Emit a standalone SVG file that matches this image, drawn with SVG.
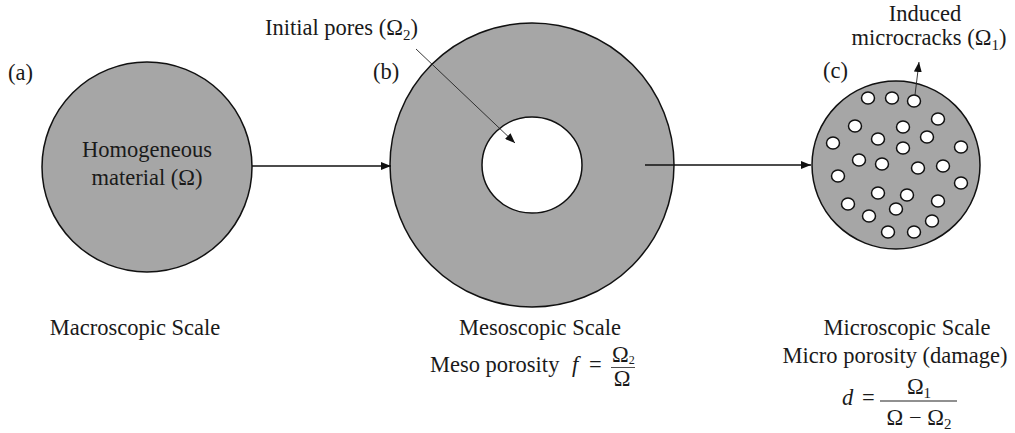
<svg xmlns="http://www.w3.org/2000/svg" width="1015" height="433" viewBox="0 0 1015 433">
<style>
text{font-family:"Liberation Serif","Times New Roman",serif;font-size:22.5px;fill:#1a1a1a}
.mid{text-anchor:middle}
.body{fill:#a6a6a6;stroke:#111;stroke-width:1.5}
.hole{fill:#fff;stroke:#111;stroke-width:1.5}
.conn{stroke:#111;stroke-width:1.3;fill:none}
.thin{stroke:#222;stroke-width:0.9;fill:none}
.it{font-style:italic}
</style>
<defs>
<marker id="ah" viewBox="0 0 10 8" refX="10" refY="4" markerWidth="10" markerHeight="8" markerUnits="userSpaceOnUse" orient="auto">
<path d="M0,0 L10,4 L0,8 Z" fill="#111"/>
</marker>
</defs>

<g id="macro">
<circle class="body" cx="147" cy="167" r="105"/>
<text class="mid" x="147" y="157">Homogeneous</text>
<text class="mid" x="147" y="185">material (Ω)</text>
<text x="8" y="80">(a)</text>
<text class="mid" x="135" y="335">Macroscopic  Scale</text>
</g>

<g id="meso">
<circle class="body" cx="532" cy="165" r="142"/>
<ellipse class="hole" cx="532" cy="165" rx="50" ry="48"/>
<text x="373" y="79">(b)</text>
<text x="265" y="35">Initial pores (Ω<tspan font-size="15" dy="5">2</tspan><tspan dy="-5">)</tspan></text>
<text class="mid" x="540" y="335">Mesoscopic  Scale</text>
<text x="430" y="372">Meso porosity</text>
<text class="it" x="572" y="372">f</text>
<text x="589" y="372">=</text>
<text x="612" y="362" font-size="15">Ω<tspan font-size="12" dy="2">2</tspan></text>
<line x1="611" y1="367.5" x2="635" y2="367.5" stroke="#222" stroke-width="0.8"/>
<text class="mid" x="622" y="386" font-size="15">Ω</text>
</g>

<g id="micro">
<circle class="body" cx="896" cy="165" r="84"/>
<g class="holes">
<ellipse class="hole" cx="868" cy="98" rx="6.5" ry="6"/>
<ellipse class="hole" cx="892" cy="98" rx="6.5" ry="6"/>
<ellipse class="hole" cx="914" cy="101" rx="6.5" ry="6"/>
<ellipse class="hole" cx="938" cy="119" rx="6.5" ry="6"/>
<ellipse class="hole" cx="855" cy="126" rx="6.5" ry="6"/>
<ellipse class="hole" cx="903" cy="127" rx="6.5" ry="6"/>
<ellipse class="hole" cx="878" cy="139" rx="6.5" ry="6"/>
<ellipse class="hole" cx="927" cy="137" rx="6.5" ry="6"/>
<ellipse class="hole" cx="833" cy="143" rx="6.5" ry="6"/>
<ellipse class="hole" cx="961" cy="147" rx="6.5" ry="6"/>
<ellipse class="hole" cx="903" cy="148" rx="6.5" ry="6"/>
<ellipse class="hole" cx="859" cy="160" rx="6.5" ry="6"/>
<ellipse class="hole" cx="882" cy="164" rx="6.5" ry="6"/>
<ellipse class="hole" cx="918" cy="168" rx="6.5" ry="6"/>
<ellipse class="hole" cx="943" cy="166" rx="6.5" ry="6"/>
<ellipse class="hole" cx="838" cy="176" rx="6.5" ry="6"/>
<ellipse class="hole" cx="961" cy="183" rx="6.5" ry="6"/>
<ellipse class="hole" cx="878" cy="193" rx="6.5" ry="6"/>
<ellipse class="hole" cx="907" cy="195" rx="6.5" ry="6"/>
<ellipse class="hole" cx="938" cy="201" rx="6.5" ry="6"/>
<ellipse class="hole" cx="848" cy="204" rx="6.5" ry="6"/>
<ellipse class="hole" cx="869" cy="216" rx="6.5" ry="6"/>
<ellipse class="hole" cx="896" cy="209" rx="6.5" ry="6"/>
<ellipse class="hole" cx="932" cy="221" rx="6.5" ry="6"/>
<ellipse class="hole" cx="888" cy="232" rx="6.5" ry="6"/>
<ellipse class="hole" cx="914" cy="232" rx="6.5" ry="6"/>
</g>
<text x="823" y="78">(c)</text>
<text class="mid" x="925" y="21">Induced</text>
<text class="mid" x="929" y="45">microcracks (Ω<tspan font-size="15" dy="5">1</tspan><tspan dy="-5">)</tspan></text>
<text class="mid" x="907" y="335">Microscopic  Scale</text>
<text class="mid" x="895" y="363">Micro porosity (damage)</text>
<text class="it" x="842" y="405">d</text>
<text x="862" y="405">=</text>
<text class="mid" x="919" y="394">Ω<tspan font-size="15" dy="4">1</tspan></text>
<line x1="880" y1="401" x2="957" y2="401" stroke="#222" stroke-width="1.2"/>
<text class="mid" x="919" y="425">Ω − Ω<tspan font-size="15" dy="4">2</tspan></text>
</g>

<g id="connectors">
<line class="conn" x1="252" y1="166" x2="391" y2="166" marker-end="url(#ah)"/>
<line class="conn" x1="645" y1="165" x2="811" y2="165" marker-end="url(#ah)"/>
<line class="thin" x1="416" y1="49" x2="515" y2="143" marker-end="url(#ah)"/>
<line class="thin" x1="915" y1="95" x2="919" y2="62" marker-end="url(#ah)"/>
</g>
</svg>
